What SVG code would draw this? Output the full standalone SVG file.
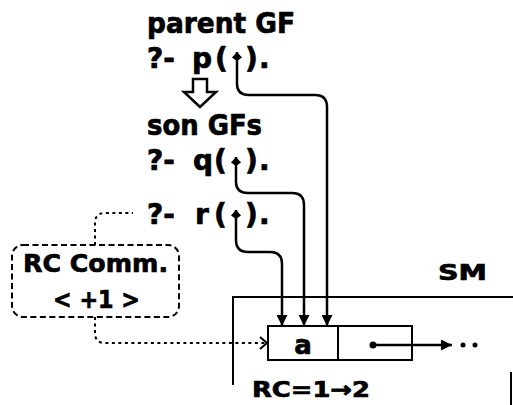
<svg xmlns="http://www.w3.org/2000/svg" width="513" height="405" viewBox="0 0 513 405">
<style>
.t{font-family:"DejaVu Sans","Liberation Sans",sans-serif;font-weight:bold;fill:#000;stroke:#000;stroke-width:0.7}
.ln{fill:none;stroke:#000;stroke-width:2.5}
.dot{fill:none;stroke:#000;stroke-width:2;stroke-dasharray:3 3.5}
.box{fill:none;stroke:#000;stroke-width:2}
</style>
<defs>
<marker id="ah" markerUnits="userSpaceOnUse" markerWidth="11" markerHeight="11" viewBox="0 0 10 10" refX="10" refY="5" orient="auto"><path d="M0,0 L10,5 L0,10 z" fill="#000"/></marker>
<marker id="kite" markerUnits="userSpaceOnUse" markerWidth="10" markerHeight="10" viewBox="0 0 10 10" refX="10" refY="5" orient="auto-start-reverse"><path d="M10,5 L4.5,0 L1,5 L4.5,10 z" fill="#000"/></marker>
<marker id="open" markerUnits="userSpaceOnUse" markerWidth="10" markerHeight="14" viewBox="0 0 10 14" refX="8" refY="7" orient="auto"><path d="M1,1 L8,7 L1,13" fill="none" stroke="#000" stroke-width="2"/></marker>
</defs>
<rect width="513" height="405" fill="#fff"/>

<g id="parent">
<text class="t" x="147" y="33" font-size="28" textLength="148" lengthAdjust="spacingAndGlyphs">parent GF</text>
<text class="t" x="147" y="68" font-size="28"><tspan x="147">?-</tspan><tspan x="192">p</tspan><tspan x="215">(</tspan><tspan x="245">)</tspan><tspan x="259">.</tspan></text>
</g>

<g id="down-arrow">
<polygon points="193,79 207,79 207,92 216,92 200,107 184,92 193,92" fill="#fff" stroke="#000" stroke-width="2.5" stroke-linejoin="miter"/>
</g>

<g id="sons">
<text class="t" x="147" y="135" font-size="28" textLength="115" lengthAdjust="spacingAndGlyphs">son GFs</text>
<text class="t" x="147" y="170" font-size="28"><tspan x="147">?-</tspan><tspan x="193">q</tspan><tspan x="214">(</tspan><tspan x="245">)</tspan><tspan x="259">.</tspan></text>
<text class="t" x="147" y="224" font-size="28"><tspan x="147">?-</tspan><tspan x="195">r</tspan><tspan x="214">(</tspan><tspan x="245">)</tspan><tspan x="259">.</tspan></text>
</g>

<g id="rc-comm">
<rect x="12" y="245" width="167" height="72" rx="11" class="box" stroke-dasharray="6 3.5"/>
<text class="t" x="23" y="272" font-size="25" textLength="145" lengthAdjust="spacingAndGlyphs">RC Comm.</text>
<text class="t" x="53" y="308" font-size="24" textLength="87" lengthAdjust="spacingAndGlyphs">&lt; +1 &gt;</text>
</g>

<g id="sm">
<text class="t" x="438" y="280" font-size="22" textLength="49" lengthAdjust="spacingAndGlyphs">SM</text>
<path class="box" d="M233,385 V297 H513"/>
<path class="box" d="M511,372 V405"/>
<rect x="268" y="326" width="144" height="34" class="box"/>
<line x1="338" y1="326" x2="338" y2="360" class="box"/>
<text class="t" x="303" y="354" font-size="26" text-anchor="middle">a</text>
<circle cx="373" cy="345" r="3.5" fill="#000"/>
<circle cx="463" cy="345" r="2.5" fill="#000"/>
<circle cx="475" cy="345" r="2.5" fill="#000"/>
<text class="t" x="252" y="397" font-size="22" textLength="118" lengthAdjust="spacingAndGlyphs">RC=1→2</text>
</g>

<g id="connectors">
<path class="ln" d="M237,52 V84 Q237,95 249,95 H315 Q327,95 327,107 V326" marker-start="url(#kite)" marker-end="url(#ah)"/>
<path class="ln" d="M236,157 V182 Q236,193 248,193 H292 Q304,193 304,205 V326" marker-start="url(#kite)" marker-end="url(#ah)"/>
<path class="ln" d="M236,210 V240 Q236,252 248,252 H270 Q282,252 282,264 V326" marker-start="url(#kite)" marker-end="url(#ah)"/>
<path class="ln" d="M373,345 H452" marker-end="url(#ah)"/>
<path class="dot" d="M95,245 V223 Q95,213 105,213 H133"/>
<path class="dot" d="M95,317 V333 Q95,343 105,343 H267" marker-end="url(#open)"/>
</g>
</svg>
